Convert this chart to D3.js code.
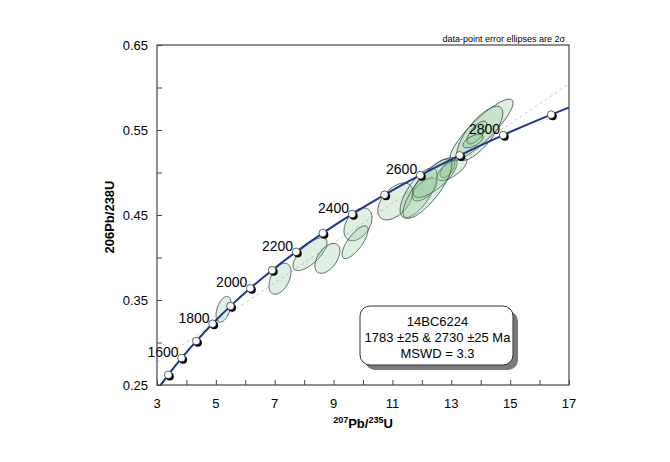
<!DOCTYPE html>
<html>
<head>
<meta charset="utf-8">
<script src="https://cdn.jsdelivr.net/npm/d3@7"></script>
<style>
  body { margin: 0; background: #fff; }
  text { font-family: "Liberation Sans", Arial, sans-serif; }
</style>
</head>
<body>
<div id="chart"></div>
<script>
// concordia reference points (age in Ma, 207Pb/235U, 206Pb/238U)
const concAges = [1400, 1500, 1600, 1700, 1800, 1900, 2000, 2100, 2200, 2300, 2400, 2500, 2600, 2700, 2800, 2900, 3000];
const conc207 = [2.970, 3.381, 3.834, 4.335, 4.887, 5.496, 6.169, 6.911, 7.729, 8.633, 9.630, 10.730, 11.944, 13.283, 14.762, 16.393, 18.193];
const conc206 = [0.2426, 0.2620, 0.2817, 0.3017, 0.3221, 0.3428, 0.3638, 0.3851, 0.4067, 0.4287, 0.4511, 0.4738, 0.4968, 0.5202, 0.5440, 0.5681, 0.5926];
const markerAges = [1500, 1600, 1700, 1800, 1900, 2000, 2100, 2200, 2300, 2400, 2500, 2600, 2700, 2800, 2900];
const labelAges = [1600, 1800, 2000, 2200, 2400, 2600, 2800];

// discordia intercepts
const interceptAges = [1783, 2730];
const intercept207 = [4.789, 13.712];
const intercept206 = [0.3186, 0.5273];

// error ellipses: centre, half-extent (2 sigma) and correlation
const ellX   = [5.26, 7.18, 8.20, 8.79, 9.83, 9.73, 11.10, 11.89, 12.09, 12.45, 12.87, 14.03, 13.97, 13.87, 13.74, 13.02, 12.19];
const ellY   = [0.339, 0.375, 0.404, 0.399, 0.439, 0.418, 0.466, 0.476, 0.480, 0.494, 0.504, 0.550, 0.546, 0.547, 0.537, 0.504, 0.481];
const ellSX  = [0.255, 0.374, 0.578, 0.425, 0.476, 0.442, 0.595, 0.63, 0.42, 0.75, 0.25, 1.07, 0.78, 0.34, 0.34, 0.51, 0.83];
const ellSY  = [0.0152, 0.0182, 0.0193, 0.0176, 0.0193, 0.0193, 0.0217, 0.0293, 0.0135, 0.0234, 0.010, 0.0363, 0.032, 0.0135, 0.008, 0.0135, 0.035];
const ellRho = [0.45, 0.45, 0.7, 0.5, 0.4, 0.75, 0.5, 0.7, 0.6, 0.75, 0.6, 0.88, 0.75, 0.7, 0.6, 0.7, 0.8];

const xTicks = [3, 5, 7, 9, 11, 13, 15, 17];
const yTicks = [0.25, 0.35, 0.45, 0.55, 0.65];

const legendLines = ["14BC6224", "1783 ±25 & 2730 ±25 Ma", "MSWD = 3.3"];

const width = 670, height = 462;
const margin = {top: 45, right: 101, bottom: 77, left: 157};
const iw = width - margin.left - margin.right;
const ih = height - margin.top - margin.bottom;

const svg = d3.select("#chart").append("svg")
  .attr("width", width).attr("height", height);

const x = d3.scaleLinear().domain([3, 17]).range([0, iw]);
const y = d3.scaleLinear().domain([0.25, 0.65]).range([ih, 0]);

svg.append("defs").append("clipPath").attr("id", "plotclip")
  .append("rect").attr("width", iw).attr("height", ih);

const g = svg.append("g").attr("transform", `translate(${margin.left},${margin.top})`);
const plot = g.append("g").attr("clip-path", "url(#plotclip)");

// discordia line through both intercepts, extended to the frame
const slope = (intercept206[1] - intercept206[0]) / (intercept207[1] - intercept207[0]);
const dEnds = x.domain().map(v => [v, intercept206[0] + slope * (v - intercept207[0])]);
plot.append("path")
  .attr("d", d3.line().x(d => x(d[0])).y(d => y(d[1]))(dEnds))
  .attr("fill", "none")
  .attr("stroke", "#c3c9d3")
  .attr("stroke-width", 1)
  .attr("stroke-dasharray", "3,3");

// error ellipses
const ellipses = ellX.map((cx, i) => ({cx: cx, cy: ellY[i], sx: ellSX[i], sy: ellSY[i], rho: ellRho[i]}));
function ellipsePts(e) {
  const pts = [];
  const k = Math.sqrt(1 - e.rho * e.rho);
  for (let a = 0; a < 360; a += 4) {
    const t = a * Math.PI / 180;
    pts.push([x(e.cx + e.sx * Math.cos(t)), y(e.cy + e.sy * (e.rho * Math.cos(t) + k * Math.sin(t)))]);
  }
  return pts;
}
plot.append("g").selectAll("path")
  .data(ellipses)
  .enter()
  .append("path")
    .attr("d", d => d3.line().curve(d3.curveCardinalClosed)(ellipsePts(d)))
    .attr("fill", "rgba(130,195,140,0.26)")
    .attr("stroke", "#34453a")
    .attr("stroke-width", 0.8);

// concordia curve
const conc = concAges.map((a, i) => ({age: a, x: conc207[i], y: conc206[i]}));
plot.append("path")
  .datum(conc)
  .attr("d", d3.line().x(d => x(d.x)).y(d => y(d.y)).curve(d3.curveCatmullRom))
  .attr("fill", "none")
  .attr("stroke", "#1c3590")
  .attr("stroke-width", 2);

// age markers
const marks = conc.filter(d => markerAges.includes(d.age));
const mk = g.append("g").selectAll("g").data(marks).enter().append("g")
  .attr("transform", d => `translate(${x(d.x)},${y(d.y)})`);
mk.append("circle").attr("cx", 1.6).attr("cy", 1.6).attr("r", 4).attr("fill", "#000");
mk.append("circle").attr("r", 3.8).attr("fill", "#fff").attr("stroke", "#000").attr("stroke-width", 0.6);

g.append("g").selectAll("text")
  .data(conc.filter(d => labelAges.includes(d.age)))
  .enter()
  .append("text")
    .attr("x", d => x(d.x) - 3)
    .attr("y", d => y(d.y) - 1)
    .attr("text-anchor", "end")
    .attr("font-size", 14)
    .attr("fill", "#000")
    .text(d => d.age);

// frame
g.append("rect").attr("width", iw).attr("height", ih)
  .attr("fill", "none").attr("stroke", "#444").attr("stroke-width", 1.2);

// axes with inward ticks
const xAxis = g.append("g").attr("transform", `translate(0,${ih})`)
  .call(d3.axisBottom(x).tickValues(d3.range(3, 17.5, 1)).tickSize(-5).tickFormat(""));
xAxis.select(".domain").remove();
xAxis.selectAll("line").attr("stroke", "#444");
g.append("g").selectAll("text").data(xTicks).enter().append("text")
  .attr("x", d => x(d)).attr("y", ih + 23)
  .attr("text-anchor", "middle").attr("font-size", 13).text(d => d);

const yAxis = g.append("g")
  .call(d3.axisLeft(y).tickValues(d3.range(0.25, 0.651, 0.05)).tickSize(-5).tickFormat(""));
yAxis.select(".domain").remove();
yAxis.selectAll("line").attr("stroke", "#444");
g.append("g").selectAll("text").data(yTicks).enter().append("text")
  .attr("x", -9).attr("y", d => y(d) + 5)
  .attr("text-anchor", "end").attr("font-size", 13).text(d => d.toFixed(2));

// axis titles
const xt = svg.append("text")
  .attr("x", margin.left + iw / 2).attr("y", 428)
  .attr("text-anchor", "middle").attr("font-size", 13).attr("font-weight", "bold");
xt.append("tspan").attr("font-size", 9).attr("dy", -5).text("207");
xt.append("tspan").attr("dy", 5).text("Pb/");
xt.append("tspan").attr("font-size", 9).attr("dy", -5).text("235");
xt.append("tspan").attr("dy", 5).text("U");

svg.append("text")
  .attr("transform", "translate(114,217) rotate(-90)")
  .attr("text-anchor", "middle").attr("font-size", 13).attr("font-weight", "bold")
  .text("206Pb/238U");

svg.append("text")
  .attr("x", 565).attr("y", 42)
  .attr("text-anchor", "end").attr("font-size", 9)
  .text("data-point error ellipses are 2σ");

// result box
const bx = 360, by = 306, bw = 153, bh = 59;
svg.append("rect").attr("x", bx + 5).attr("y", by + 5).attr("width", bw).attr("height", bh)
  .attr("rx", 10).attr("fill", "#7a7a7a");
svg.append("rect").attr("x", bx).attr("y", by).attr("width", bw).attr("height", bh)
  .attr("rx", 10).attr("fill", "#fff").attr("stroke", "#333").attr("stroke-width", 1);
svg.append("g").selectAll("text").data(legendLines).enter().append("text")
  .attr("x", bx + bw / 2 + 1)
  .attr("y", (d, i) => by + 20 + i * 16)
  .attr("text-anchor", "middle").attr("font-size", 13)
  .text(d => d);
</script>
</body>
</html>
